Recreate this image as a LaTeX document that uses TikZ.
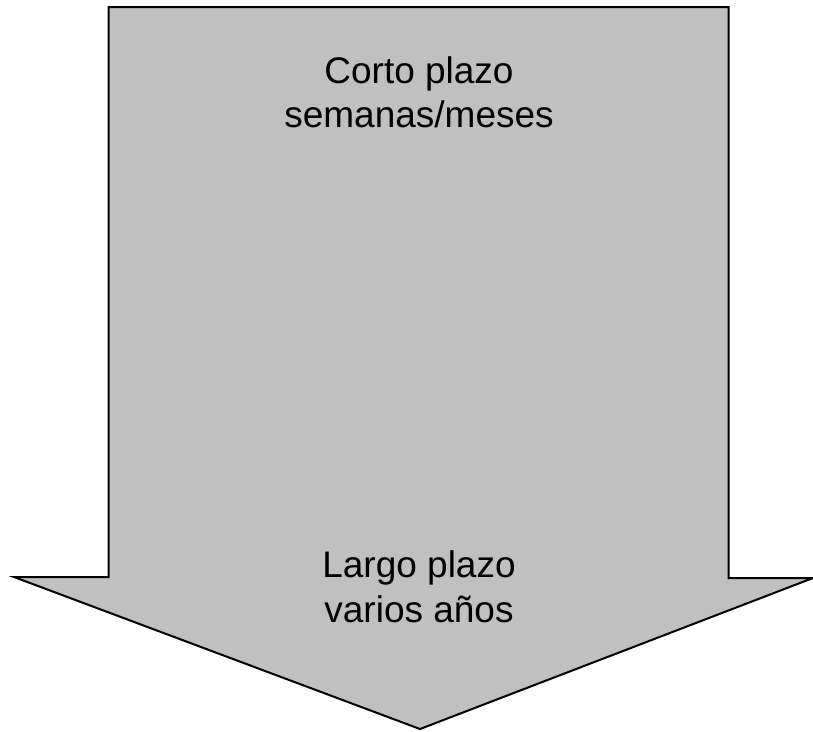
\documentclass[tikz,border=0pt]{standalone}
\usepackage{fontspec}
\setmainfont{Liberation Sans}
\begin{document}
\begin{tikzpicture}[x=1pt,y=-1pt,
  arrowshape/.style={draw=black,fill=silver,line width=2pt,line join=miter},
  lbl/.style={font=\fontsize{37}{44}\selectfont,anchor=base,inner sep=0pt,text=black}]
\definecolor{silver}{HTML}{C0C0C0}
\useasboundingbox (0,0) rectangle (813,731);
\draw[arrowshape] (108.5,7) -- (728.5,7) -- (728.5,578) -- (813,578) -- (420,729)
  -- (14,577) -- (108.5,577) -- cycle;
\node[lbl] (t1) at (419,83) {Corto plazo};
\node[lbl] (t2) at (419,127) {semanas/meses};
\node[lbl] (t3) at (419,577) {Largo plazo};
\node[lbl] (t4) at (419,622) {varios años};
\end{tikzpicture}
\end{document}
